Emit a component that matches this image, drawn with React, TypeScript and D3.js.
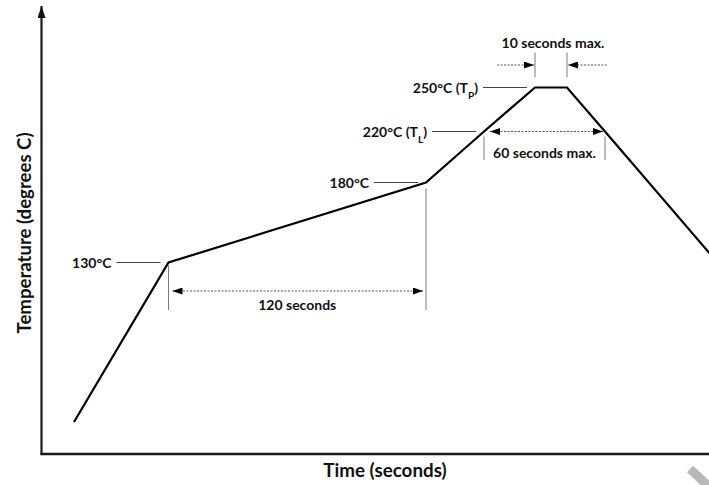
import * as d3 from "d3";

// reflow profile (nominal values, the schematic is not drawn to scale)
const profileTime = [0, 45, 165, 190, 215, 225, 250, 330];
const profileTemp = [25, 130, 180, 220, 250, 250, 220, 123];

// temperature call-outs
const markTemps = [130, 180, 220, 250];
const markTimes = [45, 165, 190, 215];
const markNames = ["130°C", "180°C", "220°C (T", "250°C (T"];
const markSubs = ["", "", "L", "P"];

// duration call-outs
const spanLabels = ["120 seconds", "60 seconds max.", "10 seconds max."];
const spanStart = [45, 190, 215];
const spanEnd = [165, 250, 225];

const xTitle = "Time (seconds)";
const yTitle = "Temperature (degrees C)";

const W = 709;
const H = 485;
const FONT = "Lato, 'Open Sans', sans-serif";

export default function App() {
  const axisX = 41.5;
  const axisY = 454;

  // piecewise scales: the drawing stretches some phases
  const x = d3
    .scaleLinear()
    .domain([0, 45, 165, 190, 215, 225, 250])
    .range([74, 168.5, 426, 484, 535, 567, 605]);
  const y = d3
    .scaleLinear()
    .domain([25, 130, 180, 220, 250])
    .range([422, 262.5, 182.5, 131.5, 87.5]);

  const line = d3
    .line<number>()
    .x((_, i) => x(profileTime[i]))
    .y((d) => y(d));

  const tick = "#7a7a7a";
  const dotted = "#555";
  const ink = "#111";

  // 120 s span
  const s0a = x(spanStart[0]);
  const s0b = x(spanEnd[0]);
  // 60 s span
  const s1a = x(spanStart[1]);
  const s1b = x(spanEnd[1]);
  const s1y = y(220);
  // 10 s span
  const s2a = x(spanStart[2]);
  const s2b = x(spanEnd[2]);
  const peakY = y(250);

  return (
    <svg
      width={W}
      height={H}
      style={{ position: "absolute", left: 0, top: 0, background: "#fff" }}
      fontFamily={FONT}
      fontWeight={700}
    >
      <defs>
        <marker
          id="ah"
          viewBox="0 0 10 10"
          refX="10"
          refY="5"
          markerWidth="10"
          markerHeight="7"
          markerUnits="userSpaceOnUse"
          preserveAspectRatio="none"
          orient="auto-start-reverse"
        >
          <path d="M0,0L10,5L0,10z" fill="#000" />
        </marker>
        <marker
          id="axisHead"
          viewBox="0 0 10 10"
          refX="10"
          refY="5"
          markerWidth="12"
          markerHeight="8"
          markerUnits="userSpaceOnUse"
          preserveAspectRatio="none"
          orient="auto"
        >
          <path d="M0,0L10,5L0,10z" fill="#111" />
        </marker>
      </defs>

      {/* axes */}
      <line
        x1={axisX}
        y1={axisY + 1}
        x2={axisX}
        y2={6}
        stroke="#1a1a1a"
        strokeWidth={2.2}
        markerEnd="url(#axisHead)"
      />
      <line x1={axisX - 1} y1={axisY} x2={W} y2={axisY} stroke="#1a1a1a" strokeWidth={2.4} />

      {/* profile */}
      <path d={line(profileTemp) ?? ""} fill="none" stroke="#000" strokeWidth={2.2} />

      {/* temperature call-outs */}
      {markTemps.map((t, i) => {
        const px = x(markTimes[i]);
        const py = y(t);
        const end = px - 8;
        const start = end - 44;
        return (
          <g key={i}>
            <line x1={start} y1={py} x2={end} y2={py} stroke="#444" strokeWidth={1} />
            <text x={start - 5} y={py + 5} textAnchor="end" fontSize={14} fill={ink}>
              {markNames[i]}
              {markSubs[i] && (
                <>
                  <tspan fontSize={10} baselineShift="sub">
                    {markSubs[i]}
                  </tspan>
                  <tspan>)</tspan>
                </>
              )}
            </text>
          </g>
        );
      })}

      {/* 120 seconds */}
      <g>
        <line x1={s0a} y1={y(130) + 3} x2={s0a} y2={310} stroke={tick} strokeWidth={1} />
        <line x1={s0b} y1={y(180) + 6} x2={s0b} y2={310} stroke={tick} strokeWidth={1} />
        <line
          x1={s0a + 4}
          y1={291}
          x2={s0b - 3}
          y2={291}
          stroke={dotted}
          strokeWidth={1}
          strokeDasharray="2 1.5"
          markerStart="url(#ah)"
          markerEnd="url(#ah)"
        />
        <text x={(s0a + s0b) / 2} y={310} textAnchor="middle" fontSize={14} fill={ink}>
          {spanLabels[0]}
        </text>
      </g>

      {/* 60 seconds max. */}
      <g>
        <line x1={s1a} y1={s1y + 5} x2={s1a} y2={160} stroke={tick} strokeWidth={1} />
        <line x1={s1b} y1={s1y + 5} x2={s1b} y2={160} stroke={tick} strokeWidth={1} />
        <line
          x1={s1a + 6}
          y1={s1y}
          x2={s1b - 2}
          y2={s1y}
          stroke={dotted}
          strokeWidth={1}
          strokeDasharray="2 1.5"
          markerStart="url(#ah)"
          markerEnd="url(#ah)"
        />
        <text x={(s1a + s1b) / 2} y={157.5} textAnchor="middle" fontSize={14} fill={ink}>
          {spanLabels[1]}
        </text>
      </g>

      {/* 10 seconds max. */}
      <g>
        <line x1={s2a} y1={peakY - 35} x2={s2a} y2={peakY - 10} stroke={tick} strokeWidth={1} />
        <line x1={s2b} y1={peakY - 35} x2={s2b} y2={peakY - 10} stroke={tick} strokeWidth={1} />
        <line
          x1={s2a - 38}
          y1={peakY - 22.5}
          x2={s2a - 1}
          y2={peakY - 22.5}
          stroke={dotted}
          strokeWidth={1}
          strokeDasharray="2 1.5"
          markerEnd="url(#ah)"
        />
        <line
          x1={s2b + 40}
          y1={peakY - 22.5}
          x2={s2b + 1}
          y2={peakY - 22.5}
          stroke={dotted}
          strokeWidth={1}
          strokeDasharray="2 1.5"
          markerEnd="url(#ah)"
        />
        <text x={(s2a + s2b) / 2 + 2} y={47.5} textAnchor="middle" fontSize={14} fill={ink}>
          {spanLabels[2]}
        </text>
      </g>

      {/* axis titles */}
      <text x={385} y={477} textAnchor="middle" fontSize={18.8} fill={ink}>
        {xTitle}
      </text>
      <text
        transform={`translate(31,233) rotate(-90)`}
        textAnchor="middle"
        fontSize={18.6}
        fill={ink}
      >
        {yTitle}
      </text>

      {/* grey corner mark */}
      <line x1={690} y1={469} x2={716} y2={493} stroke="#b8b8b8" strokeWidth={9} />
    </svg>
  );
}
